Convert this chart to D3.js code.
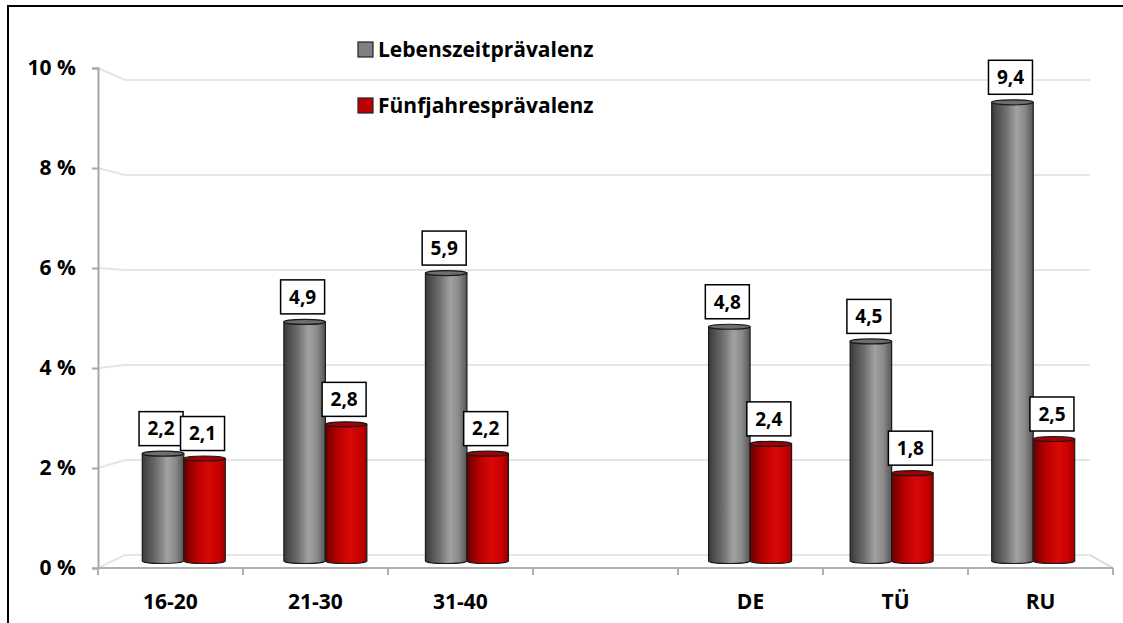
<!doctype html>
<html>
<head>
<meta charset="UTF-8" />
<script src="https://d3js.org/d3.v7.min.js"></script>
<style>
	body { margin: 0; background: #fff; }
	text { font-family: "Open Sans", Lato, sans-serif; font-weight: bold; fill: #000; }
</style>
</head>
<body>
<svg id="chart" width="1123" height="623"></svg>
<script type="text/javascript">

	// Data
	const categories = ["16-20", "21-30", "31-40", " ", "DE", "TÜ", "RU"];
	const lebenszeit = [2.2, 4.9, 5.9, null, 4.8, 4.5, 9.4];
	const fuenfjahres = [2.1, 2.8, 2.2, null, 2.4, 1.8, 2.5];
	const seriesNames = ["Lebenszeitprävalenz", "Fünfjahresprävalenz"];
	const yTicks = [0, 2, 4, 6, 8, 10];

	const svg = d3.select("#chart");

	// front plane (axes), back wall (gridlines) and middle plane (bars)
	const xAxisScale = d3.scaleBand().domain(categories).range([98, 1113]);
	const xBar = d3.scaleBand().domain(categories).range([113, 1104]);
	const xSub = d3.scaleBand().domain([0, 1]).range([0, xBar.bandwidth()]).paddingOuter(0.706);
	const yFront = d3.scaleLinear().domain([0, 10]).range([568, 68]);
	const yBack = d3.scaleLinear().domain([0, 10]).range([555, 80]);
	const yBar = d3.scaleLinear().domain([0, 10]).range([561, 73]);
	const backLeft = 125, backRight = 1090;

	const fmt = v => v.toFixed(1).replace(".", ",");

	// frame
	svg.append("path")
		.attr("d", "M8,623 L8,6 L1123,6")
		.attr("fill", "none")
		.attr("stroke", "#000")
		.attr("stroke-width", 2);

	// gradients for the cylinders
	const defs = svg.append("defs");
	const grads = [
		{ id: "gGray", stops: [[0, "#3a3a3a"], [0.35, "#707070"], [0.6, "#a2a2a2"], [0.8, "#8a8a8a"], [1, "#555"]] },
		{ id: "gRed", stops: [[0, "#680000"], [0.3, "#b80000"], [0.6, "#d80808"], [0.85, "#c80000"], [1, "#9a0000"]] }
	];
	grads.forEach(function (g) {
		const lg = defs.append("linearGradient").attr("id", g.id).attr("x1", 0).attr("x2", 1).attr("y1", 0).attr("y2", 0);
		g.stops.forEach(s => lg.append("stop").attr("offset", s[0]).attr("stop-color", s[1]));
	});
	const topColors = ["#6e6e6e", "#a80000"];
	const legendColors = ["#808080", "#c00000"];

	// gridlines on back wall
	svg.append("g").selectAll("path")
		.data(yTicks)
		.join("path")
		.attr("d", d => "M98," + yFront(d) + " L" + backLeft + "," + yBack(d) + " L" + backRight + "," + yBack(d))
		.attr("fill", "none")
		.attr("stroke", "#e6e6e6")
		.attr("stroke-width", 2);

	// floor right edge
	svg.append("path")
		.attr("d", "M" + backRight + "," + yBack(0) + " L1113," + yFront(0))
		.attr("fill", "none")
		.attr("stroke", "#d9d9d9")
		.attr("stroke-width", 2);

	// y axis
	const yAxis = svg.append("g")
		.attr("transform", "translate(98,0)")
		.call(d3.axisLeft(yFront).tickValues(yTicks).tickSize(6).tickPadding(16).tickFormat(d => d + " %"));
	yAxis.select(".domain").attr("stroke", "#a6a6a6").attr("stroke-width", 2);
	yAxis.selectAll(".tick line").attr("stroke", "#a6a6a6").attr("stroke-width", 2);
	yAxis.selectAll(".tick text")
		.attr("font-size", 21)
		.attr("font-family", "'Open Sans', sans-serif")
		.attr("font-weight", "bold")
		.attr("fill", "#000");

	// x axis line, boundary ticks and labels
	svg.append("line")
		.attr("x1", 98).attr("x2", 1113)
		.attr("y1", yFront(0)).attr("y2", yFront(0))
		.attr("stroke", "#b0b0b0").attr("stroke-width", 2);
	const bounds = categories.map(c => xAxisScale(c)).concat([xAxisScale.range()[1]]);
	svg.append("g").selectAll("line")
		.data(bounds)
		.join("line")
		.attr("x1", d => d).attr("x2", d => d)
		.attr("y1", yFront(0)).attr("y2", yFront(0) + 7)
		.attr("stroke", "#b0b0b0").attr("stroke-width", 2);
	svg.append("g").selectAll("text")
		.data(categories)
		.join("text")
		.attr("x", d => xAxisScale(d) + xAxisScale.bandwidth() / 2)
		.attr("y", 609)
		.attr("text-anchor", "middle")
		.attr("font-size", 21)
		.text(d => d);

	// bars as cylinders
	const bars = [];
	categories.forEach(function (c, i) {
		[lebenszeit[i], fuenfjahres[i]].forEach(function (v, s) {
			if (v == null) return;
			bars.push({ cat: c, s: s, v: v });
		});
	});

	const ry = 2.5;
	const barG = svg.append("g");
	bars.forEach(function (d) {
		const x0 = xBar(d.cat) + xSub(d.s);
		const w = xSub.bandwidth();
		const yt = yBar(d.v);
		const yb = yBar(0);
		barG.append("path")
			.attr("d", "M" + x0 + "," + yt + " L" + x0 + "," + yb +
				" A" + (w / 2) + "," + ry + " 0 0 0 " + (x0 + w) + "," + yb +
				" L" + (x0 + w) + "," + yt + " Z")
			.attr("fill", "url(#" + grads[d.s].id + ")")
			.attr("stroke", "#1a1a1a")
			.attr("stroke-width", 1.2);
		barG.append("ellipse")
			.attr("cx", x0 + w / 2).attr("cy", yt)
			.attr("rx", w / 2).attr("ry", ry)
			.attr("fill", topColors[d.s])
			.attr("stroke", "#1a1a1a")
			.attr("stroke-width", 1.2);
	});

	// value labels
	const labelG = svg.append("g");
	bars.forEach(function (d) {
		const cx = xBar(d.cat) + xSub(d.s) + xSub.bandwidth() / 2 - 2;
		const yb = yBar(d.v) - 8;
		labelG.append("rect")
			.attr("x", cx - 22).attr("y", yb - 34)
			.attr("width", 44).attr("height", 34)
			.attr("fill", "#fff")
			.attr("stroke", "#000")
			.attr("stroke-width", 1.5);
		labelG.append("text")
			.attr("x", cx).attr("y", yb - 17)
			.attr("dy", "0.36em")
			.attr("text-anchor", "middle")
			.attr("font-size", 19)
			.text(fmt(d.v));
	});

	// legend
	const legend = svg.append("g");
	seriesNames.forEach(function (name, i) {
		const y = 42 + i * 56;
		legend.append("rect")
			.attr("x", 358).attr("y", y)
			.attr("width", 15).attr("height", 15)
			.attr("fill", legendColors[i])
			.attr("stroke", "#222")
			.attr("stroke-width", 1.2);
		legend.append("text")
			.attr("x", 378).attr("y", y + 15)
			.attr("font-size", 21)
			.text(name);
	});

</script>
</body>
</html>
